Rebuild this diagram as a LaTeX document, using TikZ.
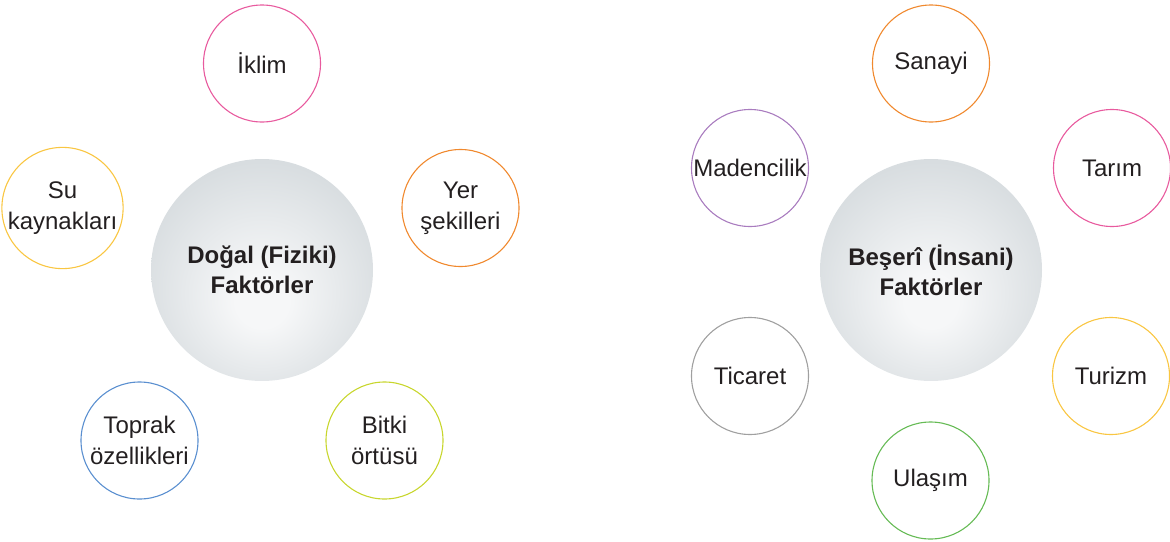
\documentclass[tikz,border=0pt]{standalone}
\usepackage{fontspec}
\setmainfont{Liberation Sans}
\definecolor{txt}{RGB}{35,31,32}
\definecolor{cPink}{RGB}{232,90,158}
\definecolor{cOrange}{RGB}{240,137,46}
\definecolor{cYellow}{RGB}{249,198,66}
\definecolor{cBlue}{RGB}{90,143,208}
\definecolor{cLime}{RGB}{200,214,46}
\definecolor{cPurple}{RGB}{169,124,191}
\definecolor{cGray}{RGB}{160,160,160}
\definecolor{cGreen}{RGB}{102,187,85}
\definecolor{shIn}{RGB}{246,247,248}
\definecolor{shMid}{RGB}{216,221,224}
\definecolor{shOut}{RGB}{188,195,199}
\pgfdeclareradialshading{ballshade}{\pgfpoint{0bp}{-8bp}}{color(0bp)=(shIn); color(6bp)=(shIn); color(28bp)=(shMid); color(50bp)=(shOut)}
\tikzset{
  small/.style={circle, draw=#1, line width=1.1pt, minimum size=117pt, inner sep=0pt,
    align=center, text=txt, font=\fontsize{24}{31}\selectfont},
  big/.style={circle, shading=ballshade, minimum size=222pt, inner sep=0pt,
    align=center, text=txt, font=\fontsize{24}{30}\selectfont\bfseries}
}
\begin{document}
\begin{tikzpicture}[x=1pt,y=-1pt]
\useasboundingbox (0,0) rectangle (1170,541);
% left group
\node[big] (dogal) at (262,270) {Doğal (Fiziki)\\Faktörler};
\node[small=cPink] (iklim) at (262,63.5) {İklim};
\node[small=cYellow] (su) at (62.5,208) {Su\\kaynakları};
\node[small=cOrange] (yer) at (460.5,208) {Yer\\şekilleri};
\node[small=cBlue] (toprak) at (139.5,440.5) {Toprak\\özellikleri};
\node[small=cLime] (bitki) at (384.5,440.5) {Bitki\\örtüsü};
% right group
\node[big] (beseri) at (931,270) {Beşerî (İnsani)\\Faktörler};
\node[small=cOrange] (sanayi) at (931,63.5) {Sanayi};
\node[small=cPurple] (maden) at (750,168) {Madencilik};
\node[small=cPink] (tarim) at (1112,168) {Tarım};
\node[small=cGray] (ticaret) at (750,376) {Ticaret};
\node[small=cYellow] (turizm) at (1111,376) {Turizm};
\node[small=cGreen] (ulasim) at (930.5,480.5) {Ulaşım};
\end{tikzpicture}
\end{document}
